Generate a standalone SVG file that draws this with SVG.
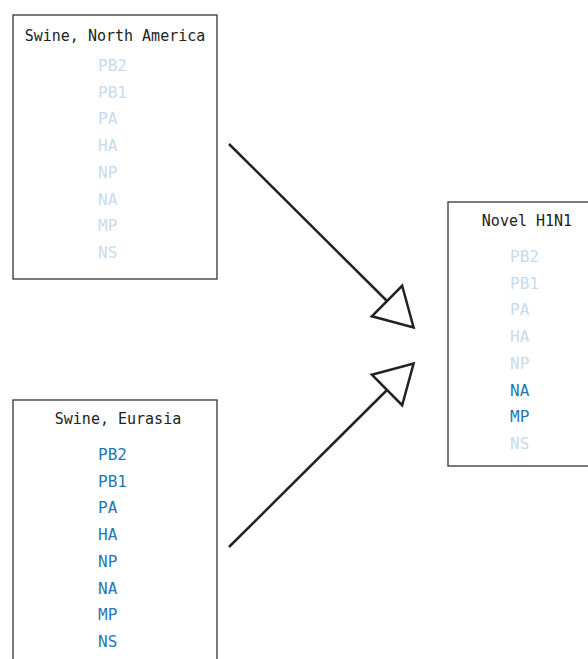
<svg xmlns="http://www.w3.org/2000/svg" width="588" height="659" viewBox="0 0 588 659">
<style>
.box{fill:#fff;stroke:#333;stroke-width:1.3}
.title{font-family:"DejaVu Sans Mono","Liberation Mono",monospace;font-size:15px;fill:#222;text-anchor:middle}
.g{font-family:"DejaVu Sans Mono","Liberation Mono",monospace;font-size:16px}
.off{fill:#c6dbef}
.on{fill:#1f78b4}
.conn{stroke:#222;stroke-width:2.5;fill:none}
</style>
<defs>
<marker id="head" markerUnits="userSpaceOnUse" viewBox="-3 -25 44 50" markerWidth="44" markerHeight="50" refX="0" refY="0" orient="auto">
<path d="M0,-21.5 L37.5,0 L0,21.5 Z" fill="#fff" stroke="#222" stroke-width="2.5" stroke-linejoin="miter"/>
</marker>
</defs>
<rect width="588" height="659" fill="#fff"/>
<g id="swine-na">
<rect class="box" x="13" y="15" width="204" height="264"/>
<text class="title" x="115" y="41">Swine, North America</text>
<text class="g off" x="98" y="71">PB2</text>
<text class="g off" x="98" y="97.7">PB1</text>
<text class="g off" x="98" y="124.4">PA</text>
<text class="g off" x="98" y="151.1">HA</text>
<text class="g off" x="98" y="177.8">NP</text>
<text class="g off" x="98" y="204.5">NA</text>
<text class="g off" x="98" y="231.2">MP</text>
<text class="g off" x="98" y="257.9">NS</text>
</g>
<g id="swine-eurasia">
<rect class="box" x="13" y="400" width="204" height="280"/>
<text class="title" x="118" y="424">Swine, Eurasia</text>
<text class="g on" x="98" y="460">PB2</text>
<text class="g on" x="98" y="486.7">PB1</text>
<text class="g on" x="98" y="513.4">PA</text>
<text class="g on" x="98" y="540.1">HA</text>
<text class="g on" x="98" y="566.8">NP</text>
<text class="g on" x="98" y="593.5">NA</text>
<text class="g on" x="98" y="620.2">MP</text>
<text class="g on" x="98" y="646.9">NS</text>
</g>
<g id="novel-h1n1">
<rect class="box" x="448" y="202" width="160" height="264"/>
<text class="title" x="527" y="226">Novel H1N1</text>
<text class="g off" x="510" y="262">PB2</text>
<text class="g off" x="510" y="288.7">PB1</text>
<text class="g off" x="510" y="315.4">PA</text>
<text class="g off" x="510" y="342.1">HA</text>
<text class="g off" x="510" y="368.8">NP</text>
<text class="g on" x="510" y="395.5">NA</text>
<text class="g on" x="510" y="422.2">MP</text>
<text class="g off" x="510" y="448.9">NS</text>
</g>
<g id="connectors">
<line class="conn" x1="229" y1="144" x2="387" y2="301" marker-end="url(#head)"/>
<line class="conn" x1="229" y1="547" x2="387" y2="390" marker-end="url(#head)"/>
</g>
</svg>
